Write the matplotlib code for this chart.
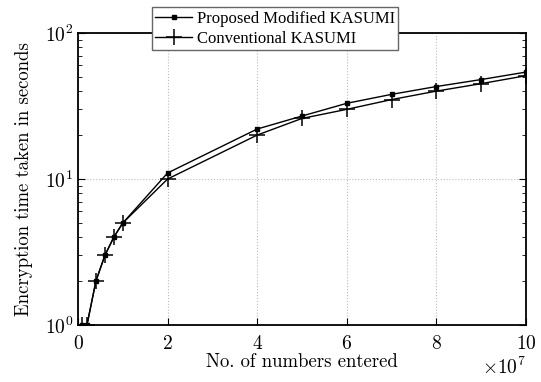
import matplotlib.pyplot as plt

plt.rcParams['font.family'] = ['cmr10', 'DejaVu Serif']
plt.rcParams['mathtext.fontset'] = 'cm'
plt.rcParams['axes.formatter.use_mathtext'] = True

# numbers entered and encryption times (s)
x = [0.1e7, 0.2e7, 0.4e7, 0.6e7, 0.8e7, 1e7, 2e7, 4e7, 5e7, 6e7, 7e7, 8e7, 9e7, 10e7]
proposed = [1, 1, 2, 3, 4, 5, 11, 22, 27, 33, 38, 43, 48, 54]
conventional = [1, 1, 2, 3, 4, 5, 10, 20, 26, 30, 35, 40, 45, 51]

fig = plt.figure(figsize=(5.41, 3.82), dpi=100)
ax = fig.add_axes([0.1442, 0.1492, 0.8281, 0.7644])

ax.plot(x, proposed, 'k-', marker='s', ms=3.5, lw=1, label='Proposed Modified KASUMI')
ax.plot(x, conventional, 'k-', marker='+', ms=11, mew=1.1, lw=1, label='Conventional KASUMI')

ax.set_yscale('log')
ax.set_xlim(0, 1e8)
ax.set_ylim(1, 100)
ax.set_xticks([0, 2e7, 4e7, 6e7, 8e7, 10e7])
ax.ticklabel_format(axis='x', style='sci', scilimits=(7, 7), useMathText=True)
ax.xaxis.get_offset_text().set_fontsize(14)
ax.tick_params(which='both', direction='in', labelsize=14, top=False, right=True)
ax.tick_params(which='major', length=5)
ax.tick_params(which='minor', length=3)
ax.tick_params(axis='x', pad=7)
ax.grid(True, which='major', ls=':', color='#bbbbbb', lw=0.8)
for s in ax.spines.values():
    s.set_linewidth(1.3)

ax.set_xlabel('No. of numbers entered', fontsize=13.5, labelpad=0)
ax.set_ylabel('Encryption time taken in seconds', fontsize=13.5, labelpad=8)

leg = ax.legend(loc='upper left', bbox_to_anchor=(0.165, 1.088),
                prop={'family': 'Liberation Serif', 'size': 12},
                fancybox=False, framealpha=1, edgecolor='#666666',
                handlelength=2.2, handletextpad=0.3, borderpad=0.2,
                labelspacing=0.25, borderaxespad=0)
leg.get_frame().set_linewidth(1)

fig.savefig('out.png', dpi=100)
